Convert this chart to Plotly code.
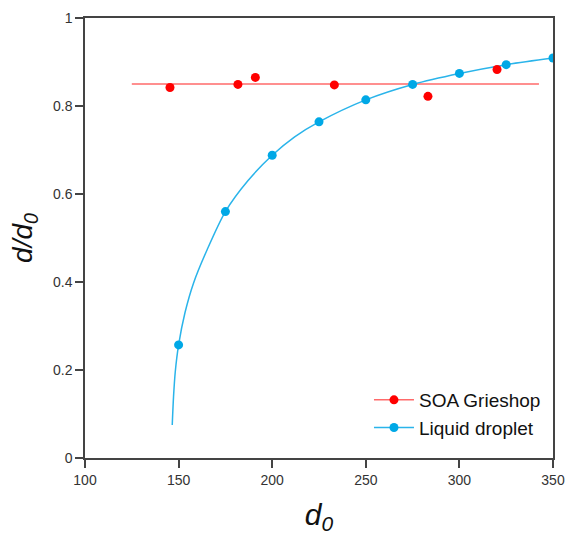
import plotly.graph_objects as go

# SOA Grieshop measurements
soa_x = [145.4, 181.7, 191.0, 233.2, 283.2, 320.1]
soa_y = [0.842, 0.849, 0.865, 0.848, 0.822, 0.883]
# SOA horizontal fit line
soa_fit_x = [125, 342.5]
soa_fit_y = [0.85, 0.85]

# Liquid droplet points
liq_x = [150, 175, 200, 225, 250, 275, 300, 325, 350]
liq_y = [0.257, 0.560, 0.688, 0.764, 0.814, 0.849, 0.874, 0.894, 0.909]
# Liquid droplet curve
curve_x = [146.6, 147.3, 148.2, 150.0, 153.4, 158.0, 165.3, 175.0, 187.0, 200.0, 212.0, 225.0, 250.0, 275.0, 300.0, 325.0, 350.0]
curve_y = [0.075, 0.140, 0.195, 0.257, 0.330, 0.398, 0.474, 0.560, 0.630, 0.688, 0.730, 0.764, 0.814, 0.849, 0.874, 0.894, 0.909]

RED = "#ff0000"
RED_LINE = "#ff6a6a"
BLUE = "#00a8e6"
BLUE_LINE = "#2ab4ea"
FONT = "Liberation Sans, Arial"

fig = go.Figure()
fig.add_trace(go.Scatter(x=soa_fit_x, y=soa_fit_y, mode="lines",
                         line=dict(color=RED_LINE, width=1.5), showlegend=False, hoverinfo="skip"))
fig.add_trace(go.Scatter(x=curve_x, y=curve_y, mode="lines",
                         line=dict(color=BLUE_LINE, width=1.5, shape="spline", smoothing=0.8),
                         showlegend=False, hoverinfo="skip"))
fig.add_trace(go.Scatter(x=soa_x, y=soa_y, mode="markers",
                         marker=dict(color=RED, size=9), showlegend=False))
fig.add_trace(go.Scatter(x=liq_x, y=liq_y, mode="markers",
                         marker=dict(color=BLUE, size=9), showlegend=False))
# legend entries
fig.add_trace(go.Scatter(x=[None], y=[None], mode="lines+markers", name="SOA Grieshop",
                         line=dict(color=RED_LINE, width=1.5), marker=dict(color=RED, size=9)))
fig.add_trace(go.Scatter(x=[None], y=[None], mode="lines+markers", name="Liquid droplet",
                         line=dict(color=BLUE_LINE, width=1.5), marker=dict(color=BLUE, size=9)))

axis_common = dict(showgrid=False, zeroline=False, showline=True, linecolor="#444444",
                   linewidth=1.5, mirror=True, ticks="outside", ticklen=8, tickwidth=1.5,
                   tickcolor="#444444", automargin=False,
                   tickfont=dict(family=FONT, size=14, color="#333333"))

fig.update_layout(
    width=567, height=535,
    margin=dict(l=85, r=14, t=18, b=77),
    paper_bgcolor="white", plot_bgcolor="white",
    xaxis=dict(range=[100, 350], dtick=50, tick0=100,
               title=dict(text="<i>d<sub>0</sub></i>", font=dict(family=FONT, size=30, color="#111111"), standoff=18),
               **axis_common),
    yaxis=dict(range=[0, 1], dtick=0.2, tick0=0,
               title=dict(text="<i>d/d<sub>0</sub></i>", font=dict(family=FONT, size=28, color="#111111"), standoff=12),
               **axis_common),
    legend=dict(x=0.985, y=0.025, xanchor="right", yanchor="bottom",
                font=dict(family=FONT, size=19, color="#111111"),
                bgcolor="rgba(0,0,0,0)", itemwidth=40, tracegroupgap=0),
)

fig.write_html("out.html", config={"displayModeBar": False},
               post_script="document.body.style.margin='0';document.body.style.overflow='hidden';")
